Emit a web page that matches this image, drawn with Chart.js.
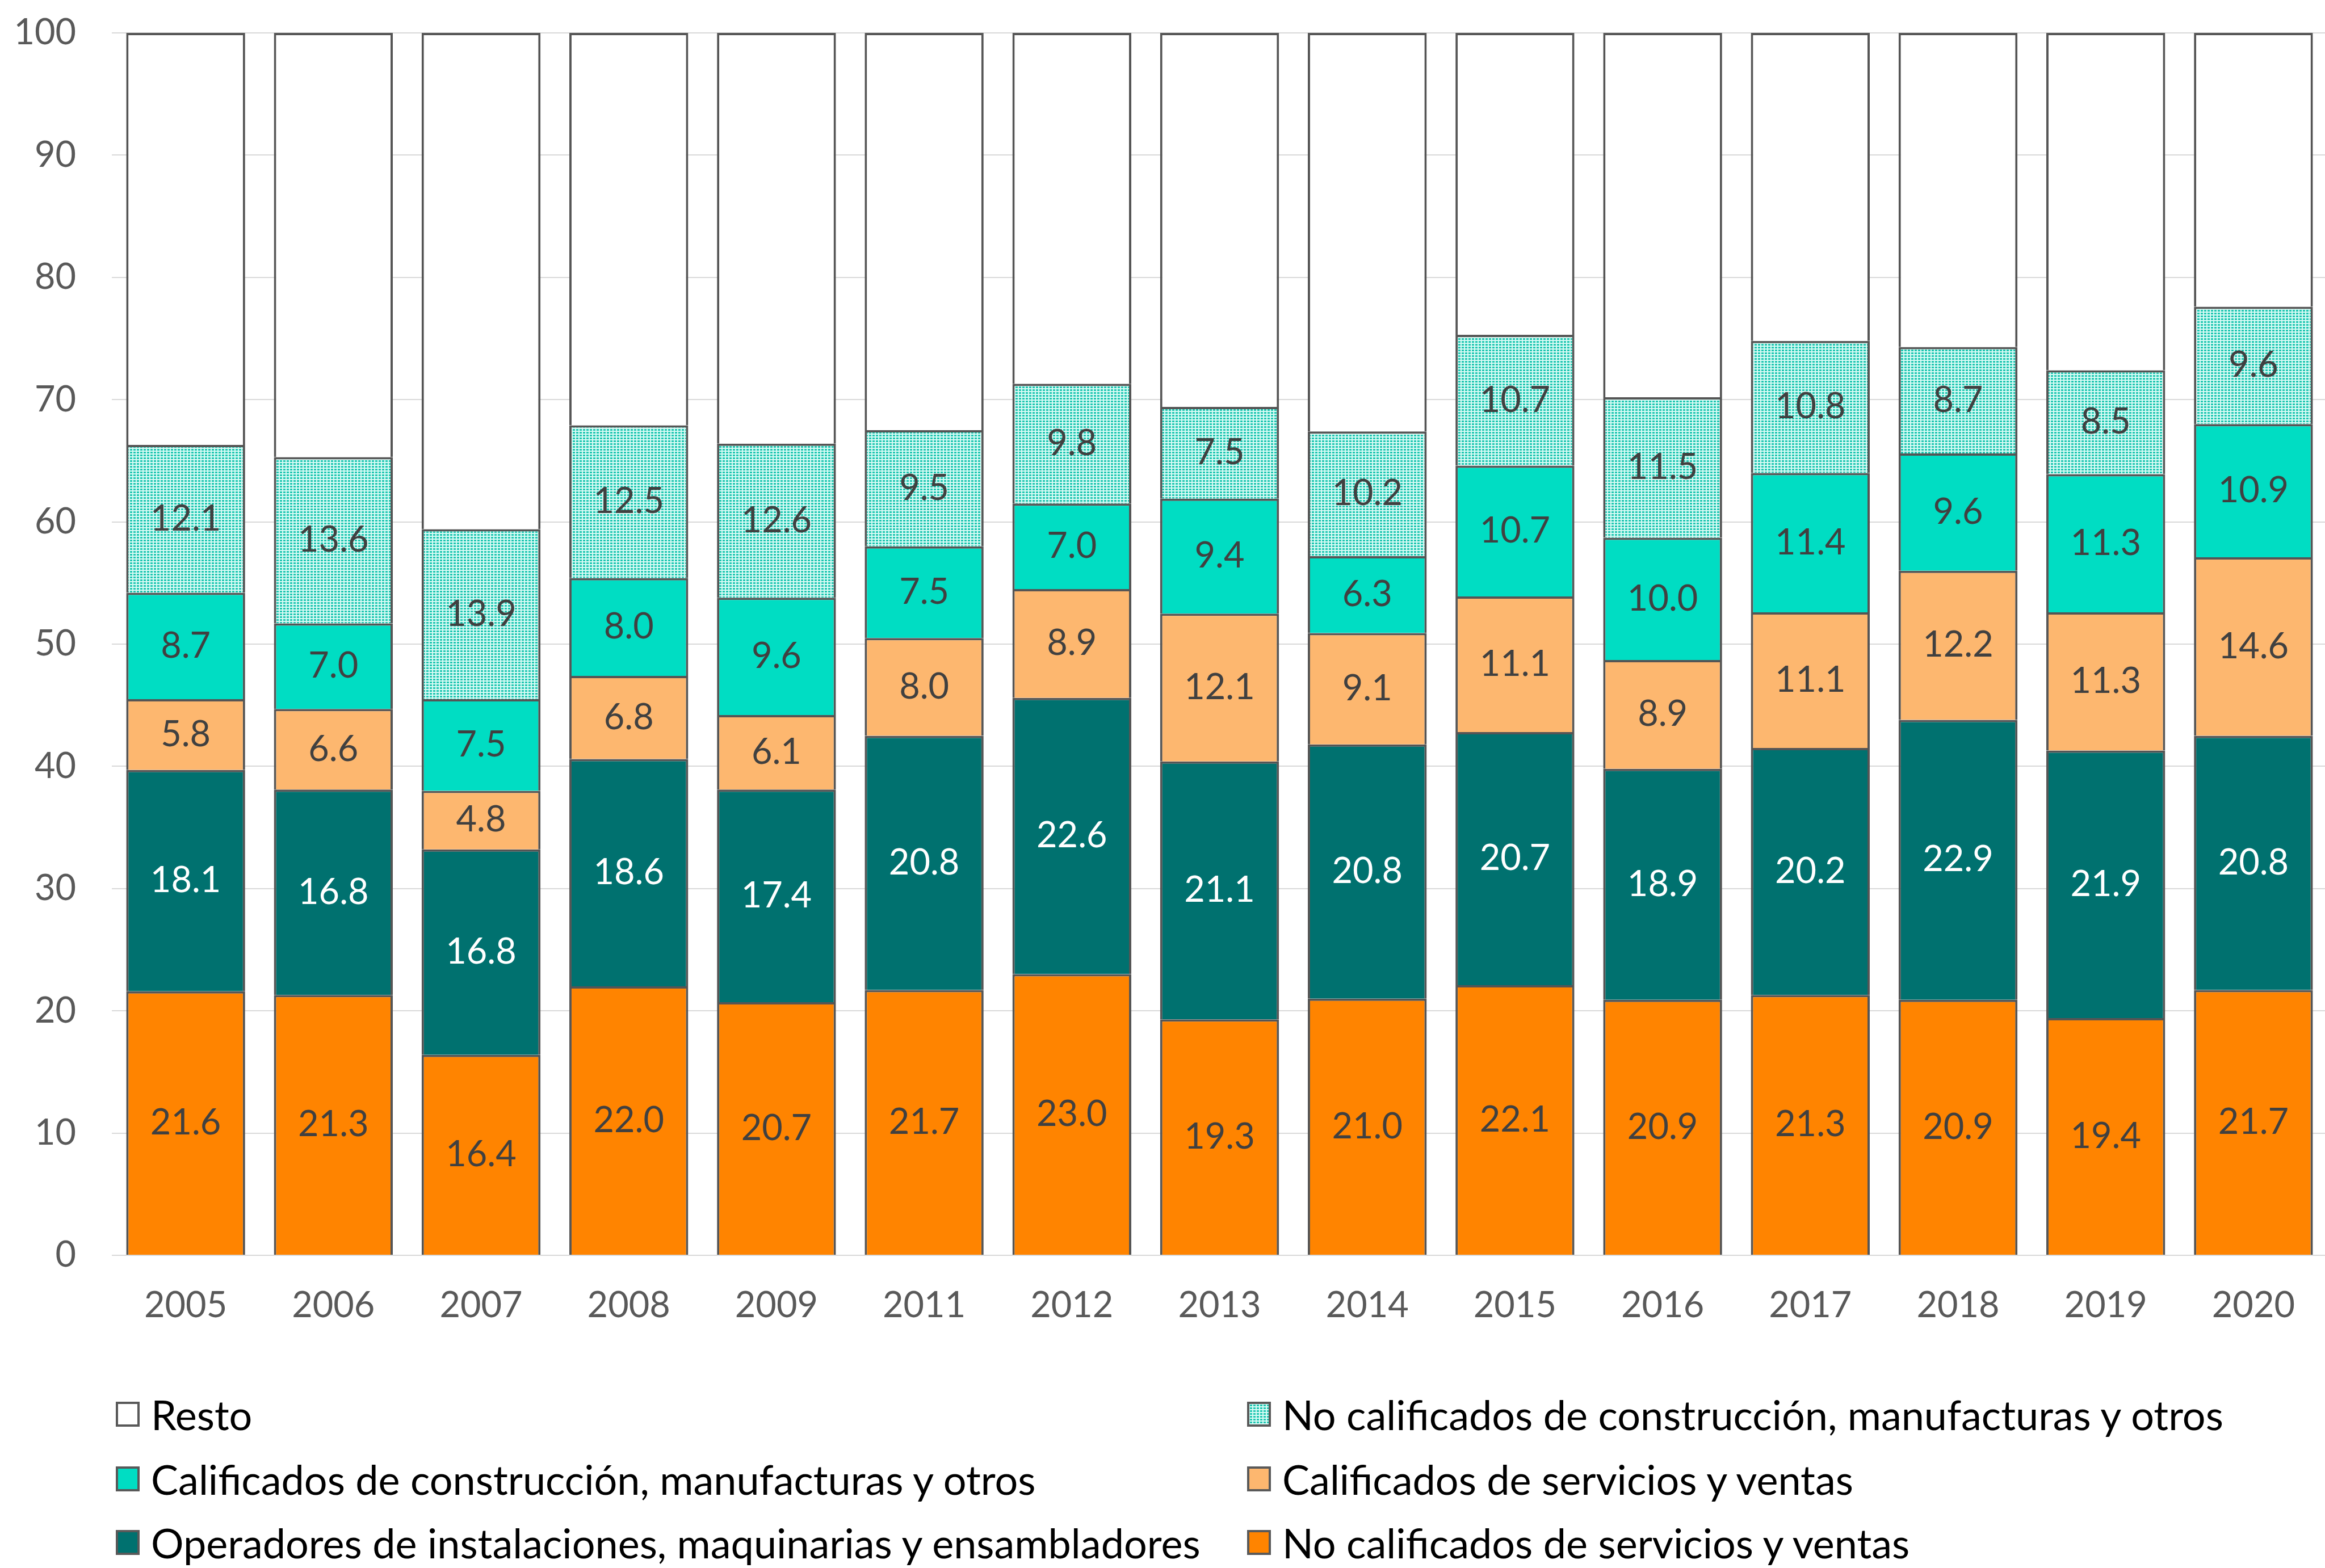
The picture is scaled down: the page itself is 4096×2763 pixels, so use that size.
<!DOCTYPE html>
<html><head><meta charset="utf-8">
<script src="https://cdn.jsdelivr.net/npm/chart.js@4/dist/chart.umd.min.js"></script>
<style>
html,body{margin:0;padding:0;background:#fff;overflow:hidden;}
#wrap{position:relative;width:4096px;height:2763px;overflow:hidden;background:#fff;}
canvas{position:absolute;left:0;top:0;}
#legend{position:absolute;left:0;top:0;width:4096px;height:2763px;font-family:Lato,sans-serif;font-size:72px;color:#000;}
.item{position:absolute;display:flex;align-items:center;white-space:nowrap;transform:translateY(-50%);}
.box{width:42px;height:44px;box-sizing:border-box;border:4px solid #595959;margin-right:20px;flex:none;}
</style></head>
<body><div id="wrap"><canvas id="c" width="4104" height="2763" style="width:4104px;height:2763px"></canvas><div id="legend"></div></div>
<script>
const years = ['2005','2006','2007','2008','2009','2011','2012','2013','2014','2015','2016','2017','2018','2019','2020'];
const noCalServ = [21.6,21.3,16.4,22.0,20.7,21.7,23.0,19.3,21.0,22.1,20.9,21.3,20.9,19.4,21.7];
const operadores = [18.1,16.8,16.8,18.6,17.4,20.8,22.6,21.1,20.8,20.7,18.9,20.2,22.9,21.9,20.8];
const calServ = [5.8,6.6,4.8,6.8,6.1,8.0,8.9,12.1,9.1,11.1,8.9,11.1,12.2,11.3,14.6];
const calCons = [8.7,7.0,7.5,8.0,9.6,7.5,7.0,9.4,6.3,10.7,10.0,11.4,9.6,11.3,10.9];
const noCalCons = [12.1,13.6,13.9,12.5,12.6,9.5,9.8,7.5,10.2,10.7,11.5,10.8,8.7,8.5,9.6];
const resto = [33.7,34.7,40.6,32.1,33.6,32.5,28.7,30.6,32.6,24.7,29.8,25.2,25.7,27.6,22.4];
const yTicks = [0,10,20,30,40,50,60,70,80,90,100];

function makePattern(){
  const c=document.createElement('canvas'); c.width=6; c.height=5;
  const g=c.getContext('2d');
  g.fillStyle='#d8fbf5'; g.fillRect(0,0,6,5);
  g.fillStyle='#1fc6b1'; g.fillRect(1,1,4,3);
  return document.getElementById('c').getContext('2d').createPattern(c,'repeat');
}
const pat = makePattern();
const FONT = 'Lato, sans-serif';

const labelPlugin = {
  id:'segLabels',
  afterDatasetsDraw(chart){
    const ctx=chart.ctx; ctx.save();
    ctx.font='63px '+FONT; ctx.textAlign='center'; ctx.textBaseline='middle';
    chart.data.datasets.forEach((ds,i)=>{
      if(ds.showLabel===false) return;
      const meta=chart.getDatasetMeta(i);
      meta.data.forEach((bar,j)=>{
        ctx.fillStyle=ds.labelColor||'#404040';
        ctx.fillText(ds.data[j].toFixed(1), bar.x, (bar.y+bar.base)/2);
      });
    });
    ctx.restore();
  }
};

const datasets = [
  {label:'No calificados de servicios y ventas', data:noCalServ, backgroundColor:'#FF8400', labelColor:'#404040'},
  {label:'Operadores de instalaciones, maquinarias y ensambladores', data:operadores, backgroundColor:'#00716F', labelColor:'#ffffff'},
  {label:'Calificados de servicios y ventas', data:calServ, backgroundColor:'#FDB76F', labelColor:'#404040'},
  {label:'Calificados de construcción, manufacturas y otros', data:calCons, backgroundColor:'#00DDC3', labelColor:'#404040'},
  {label:'No calificados de construcción, manufacturas y otros', data:noCalCons, backgroundColor:pat, labelColor:'#404040'},
  {label:'Resto', data:resto, backgroundColor:'#ffffff', showLabel:false}
];

const chart = new Chart(document.getElementById('c'), {
  type:'bar',
  data:{labels:years, datasets:datasets},
  options:{
    responsive:false, animation:false, devicePixelRatio:1,
    layout:{padding:{left:0,right:4,top:58,bottom:0}},
    plugins:{legend:{display:false}, tooltip:{enabled:false}},
    datasets:{bar:{categoryPercentage:1, barPercentage:0.805, borderColor:'#555555', borderWidth:4}},
    scales:{
      x:{stacked:true, grid:{display:false}, border:{display:false},
         ticks:{font:{family:FONT,size:63}, color:'#595959', padding:43},
         afterFit(s){ s.height = 2763-2212; }},
      y:{stacked:true, min:0, max:100,
         afterBuildTicks(s){ s.ticks = yTicks.map(v=>({value:v})); },
         ticks:{font:{family:FONT,size:63}, color:'#595959', padding:63},
         grid:{color:'#d9d9d9', lineWidth:2, drawTicks:false}, border:{display:false},
         afterFit(s){ s.width = 197; s.paddingTop = 0; s.paddingBottom = 0; }}
    }
  },
  plugins:[labelPlugin]
});

// legend (two columns, row-major, top series first)
const order = [5,4,3,2,1,0];
const colX = [204, 2197];
const rowY = [2492, 2606, 2718];
const leg = document.getElementById('legend');
order.forEach((di,k)=>{
  const ds = datasets[di];
  const it = document.createElement('div'); it.className='item';
  it.style.left = colX[k%2]+'px'; it.style.top = rowY[Math.floor(k/2)]+'px';
  const b = document.createElement('div'); b.className='box';
  if(di===4){ b.style.backgroundImage='radial-gradient(#1fc6b1 50%, transparent 55%)'; b.style.backgroundSize='6px 5px'; b.style.backgroundColor='#d8fbf5'; }
  else b.style.backgroundColor = ds.backgroundColor;
  const t = document.createElement('span'); t.textContent = ds.label;
  it.appendChild(b); it.appendChild(t); leg.appendChild(it);
});
</script>
</body></html>
